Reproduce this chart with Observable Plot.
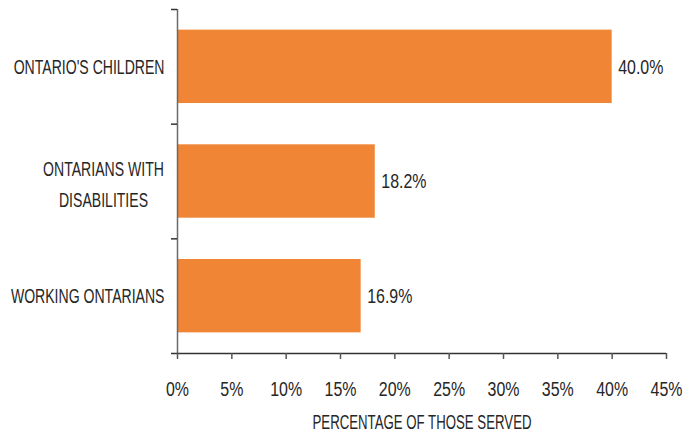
<!DOCTYPE html>
<html>
<head>
<meta charset="utf-8">
<script src="https://cdn.jsdelivr.net/npm/d3@7"></script>
<script src="https://cdn.jsdelivr.net/npm/@observablehq/plot@0.6"></script>
<style>
  html, body { margin: 0; padding: 0; background: #fff; }
  #chart svg { display: block; }
</style>
</head>
<body>
<div id="chart"></div>
<script>
const categories = ["ONTARIO'S CHILDREN", "ONTARIANS WITH\nDISABILITIES", "WORKING ONTARIANS"];
const values = [40.0, 18.2, 16.9];
const xTicks = [0, 5, 10, 15, 20, 25, 30, 35, 40, 45];
const xTitle = "PERCENTAGE OF THOSE SERVED";

const data = categories.map((c, i) => ({ category: c, value: values[i], i, multi: c.includes("\n") }));
const boundaries = d3.range(categories.length + 1);

const font = "'Liberation Sans', Arial, sans-serif";
const ink = "#262626";
const orange = "#f08536";
const pad = 0.18;

const chart = Plot.plot({
  width: 683,
  height: 437,
  marginLeft: 177,
  marginRight: 17,
  marginTop: 9,
  marginBottom: 84,
  style: { fontFamily: font, fontSize: "21px", color: ink, background: "#fff" },
  x: { domain: [0, 45] },
  y: { domain: [0, categories.length], reverse: true },
  marks: [
    Plot.rectX(data, { x1: 0, x2: "value", y1: d => d.i + pad, y2: d => d.i + 1 - pad, fill: orange }),
    Plot.text(data, { x: "value", y: d => d.i + 0.5, text: d => d.value.toFixed(1) + "%", textAnchor: "start", dx: 6, fill: ink, fontSize: 21, className: "cnum" }),
    Plot.text(data.filter(d => !d.multi), { x: 0, y: d => d.i + 0.5, text: "category", textAnchor: "end", dx: -13, fill: ink, fontSize: 21, className: "ccap" }),
    Plot.text(data.filter(d => d.multi), { x: 0, y: d => d.i + 0.5, text: "category", textAnchor: "middle", dx: -74, fill: ink, fontSize: 21, lineHeight: 1.48, className: "ccap" }),
    Plot.ruleX([0], { y1: 0, y2: categories.length, stroke: "#6a6a6a", strokeWidth: 1.5 }),
    Plot.ruleY([categories.length], { x1: 0, x2: 45, stroke: "#333", strokeWidth: 1.5 }),
    Plot.axisY(boundaries, { tickFormat: () => "", tickSize: 6, stroke: "#333", strokeWidth: 1.5, label: null }),
    Plot.axisX(xTicks, { tickFormat: d => d + "%", tickSize: 6, tickPadding: 22, stroke: "#555", strokeWidth: 1.5, fill: ink, fontSize: 21, label: null, className: "cnum" }),
    Plot.text([xTitle], { frameAnchor: "bottom", dy: 75, text: d => d, fill: ink, fontSize: 21, className: "ctitle" })
  ]
});

// Condensed lettering: compress each text horizontally about its own anchor.
const squeeze = { cnum: 0.76, ccap: 0.67, ctitle: 0.63 };
for (const [cls, k] of Object.entries(squeeze)) {
  chart.querySelectorAll(`[class^="${cls}"] text, .${cls} text, [aria-label].${cls} text`).forEach(t => {
    const tr = t.getAttribute("transform") || "";
    if (!tr.includes("scale")) t.setAttribute("transform", `${tr} scale(${k},1)`);
  });
}
document.getElementById("chart").appendChild(chart);
</script>
</body>
</html>
